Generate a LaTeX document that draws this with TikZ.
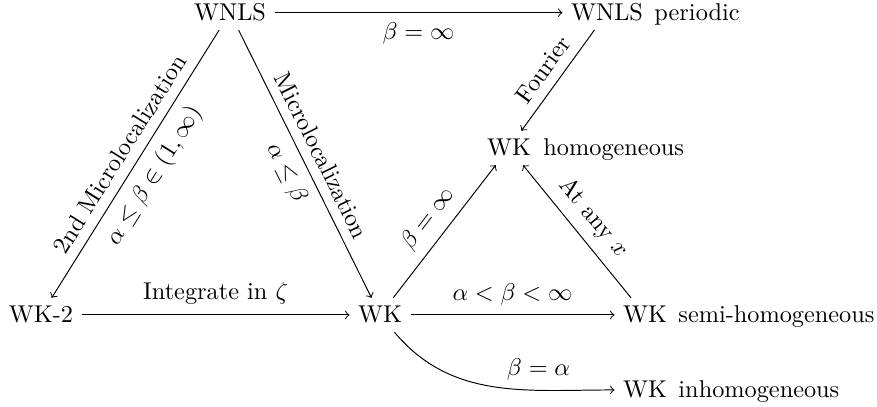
\documentclass[tikz,border=0pt]{standalone}
\begin{document}
\begin{tikzpicture}[x=0.4115pt,y=0.4115pt,
  obj/.style={anchor=base,inner sep=3.33pt},
  extra/.style={anchor=base west,inner sep=0pt},
  arr/.style={->,line width=0.4pt},
  lab/.style={inner sep=4pt}]
\useasboundingbox (0,0) rectangle (877,407);
\node[obj] (wnls) at (230,386) {WNLS};
\node[obj] (wnlsp) at (607,386) {WNLS};
\node[extra] (per) at (654,386) {periodic};
\node[obj] (wkh) at (509,251) {WK};
\node[extra] (hom) at (543,251) {homogeneous};
\node[obj] (wk2) at (41,84) {WK-2};
\node[obj] (wk) at (380,84) {WK};
\node[obj] (wks) at (645,84) {WK};
\node[extra] (semi) at (678,84) {semi-homogeneous};
\node[obj] (wki) at (645,9) {WK};
\node[extra] (inh) at (678,9) {inhomogeneous};

\draw[arr] (wnls) -- node[lab,below]{$\beta=\infty$} (wnlsp);
\draw[arr] (wnls) -- node[lab,sloped,above]{2nd Microlocalization} node[lab,sloped,below]{$\alpha\leq\beta\in(1,\infty)$} (wk2);
\draw[arr] (wnls) -- node[lab,sloped,above]{Microlocalization} node[lab,sloped,below]{$\alpha\leq\beta$} (wk);
\draw[arr] (wnlsp) -- node[lab,sloped,above]{Fourier} (wkh);
\draw[arr] (wk2) -- node[lab,above]{Integrate in $\zeta$} (wk);
\draw[arr] (wk) -- node[lab,sloped,above]{$\beta=\infty$} (wkh);
\draw[arr] (wks) -- node[lab,sloped,above]{At any $x$} (wkh);
\draw[arr] (wk) -- node[lab,above]{$\alpha<\beta<\infty$} (wks);
\draw[arr] (wk) to[out=-50,in=180] node[lab,pos=0.7,above]{$\beta=\alpha$} (wki);
\end{tikzpicture}
\end{document}
